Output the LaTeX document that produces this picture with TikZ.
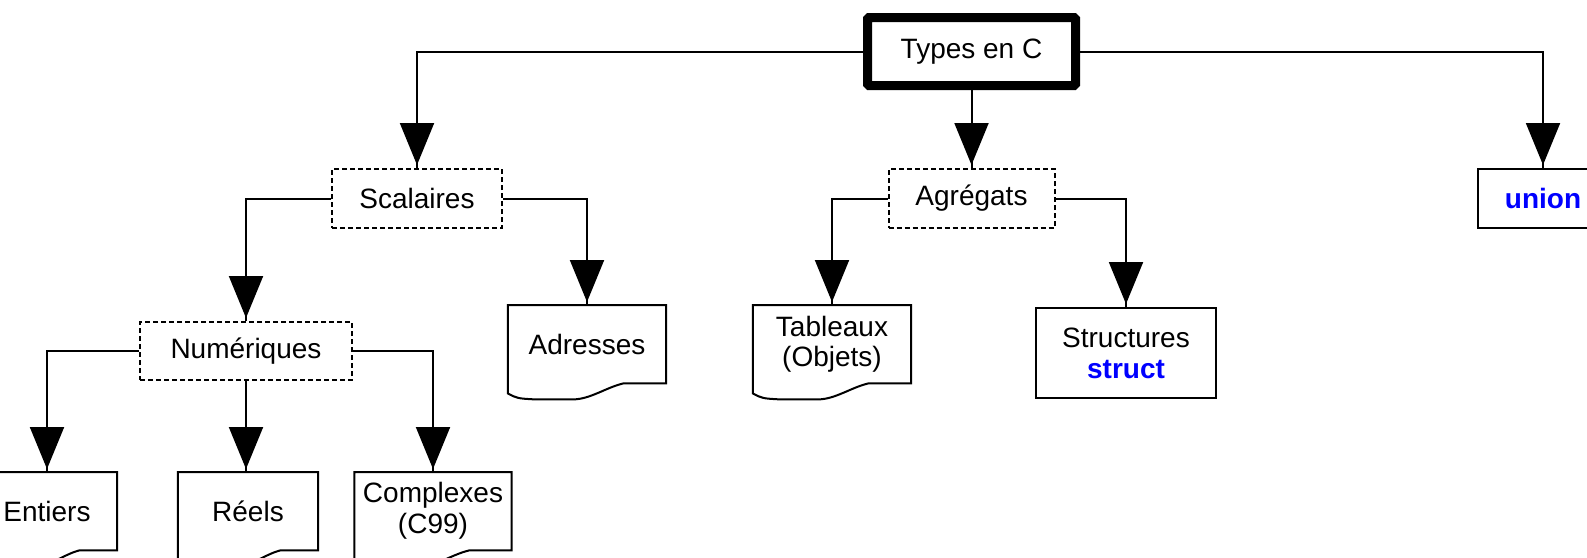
\documentclass[tikz,border=0pt]{standalone}
\usepackage{fontspec}
\setmainfont{Liberation Sans}
\usetikzlibrary{arrows.meta,calc}
\definecolor{kwblue}{RGB}{0,0,255}
\newcommand\mydoc[1]{%
\draw[docline] (#1.north west) -- (#1.north east) -- (#1.south east)
 -- ($(#1.south west)!0.73!(#1.south east)$)
 .. controls ($(#1.south west)!0.62!(#1.south east)+(0,-4pt)$) and ($(#1.south west)!0.52!(#1.south east)+(0,-16pt)$) .. ($(#1.south west)!0.41!(#1.south east)+(0,-16pt)$)
 -- ($(#1.south west)!0.17!(#1.south east)+(0,-16pt)$)
 .. controls ($(#1.south west)!0.06!(#1.south east)+(0,-15pt)$) .. ($(#1.south west)+(0,-10pt)$) -- cycle;}
\begin{document}
\begin{tikzpicture}[x=1pt,y=-1pt,
  every node/.style={font=\fontsize{28}{31}\selectfont, inner sep=0pt, align=center},
  root/.style={draw, line width=9pt, minimum width=208pt, minimum height=68pt, rounded corners=1.5pt},
  dashbox/.style={draw, line width=2pt, dash pattern=on 5pt off 3pt, minimum height=59pt},
  solidbox/.style={draw, line width=2pt},
  docnode/.style={minimum height=78pt, anchor=north},
  link/.style={line width=2pt},
  tip/.style={line width=2pt, -{Triangle[length=42pt,width=34pt]}, shorten >=3pt},
  docline/.style={line width=2pt, line join=miter}
]
\useasboundingbox (0,0) rectangle (1587,557);

\node[root] (types) at (971.5,51.5) {Types en C};
\node[dashbox, minimum width=170pt] (scal) at (417,198.5) {Scalaires};
\node[dashbox, minimum width=166pt] (agr) at (971.5,198.5) {Agrégats};
\node[solidbox, minimum width=130pt, minimum height=59pt] (union) at (1543,198.5) {\color{kwblue}\bfseries union};
\node[dashbox, minimum width=212pt, minimum height=58pt] (num) at (246,351) {Numériques};
\node[docnode, minimum width=158pt] (adr) at (587,305) {Adresses};
\node[docnode, minimum width=158pt, font=\fontsize{28}{30}\selectfont] (tab) at (832,305) {Tableaux\\(Objets)};
\node[solidbox, minimum width=180pt, minimum height=90pt] (str) at (1126,353) {Structures\\{\color{kwblue}\bfseries struct}};
\node[docnode, minimum width=140pt] (ent) at (47,472) {Entiers};
\node[docnode, minimum width=140pt] (reel) at (248,472) {Réels};
\node[docnode, minimum width=157pt] (comp) at (433,472) {Complexes\\(C99)};

\mydoc{adr}
\mydoc{tab}
\mydoc{ent}
\mydoc{reel}
\mydoc{comp}

\draw[link] (types.west) -| (scal.north);
\draw[tip] (types.west) -| (scal.north);
\draw[link] (types.south) -- (agr.north);
\draw[tip] (types.south) -- (agr.north);
\draw[link] (types.east) -| (union.north);
\draw[tip] (types.east) -| (union.north);

\draw[link] (scal.west) -| (num.north);
\draw[tip] (scal.west) -| (num.north);
\draw[link] (scal.east) -| (adr.north);
\draw[tip] (scal.east) -| (adr.north);

\draw[link] (agr.west) -| (tab.north);
\draw[tip] (agr.west) -| (tab.north);
\draw[link] (agr.east) -| (str.north);
\draw[tip] (agr.east) -| (str.north);

\draw[link] (num.west) -| (ent.north);
\draw[tip] (num.west) -| (ent.north);
\draw[link] (num.south) -- (num.south |- reel.north);
\draw[tip] (num.south) -- (num.south |- reel.north);
\draw[link] (num.east) -| (comp.north);
\draw[tip] (num.east) -| (comp.north);
\end{tikzpicture}
\end{document}
